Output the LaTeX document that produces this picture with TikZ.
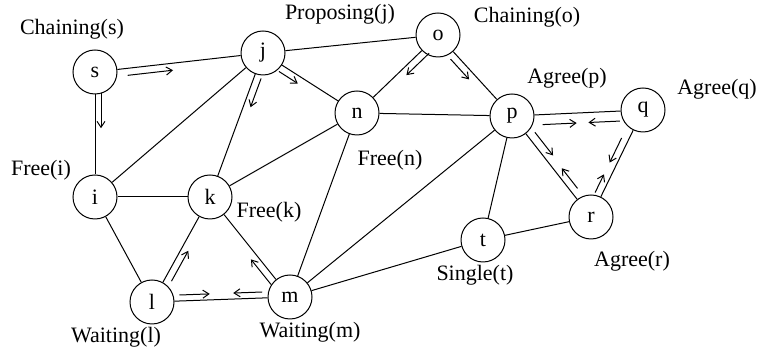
\documentclass[tikz,border=0pt]{standalone}
\usepackage{fontspec}
\setmainfont{Liberation Serif}
\usetikzlibrary{calc,arrows.meta}
\tikzset{
  vtx/.style={circle,draw,line width=0.5pt,minimum size=22pt,inner sep=0pt,font=\fontsize{11}{13}\selectfont},
  lbl/.style={inner sep=0pt,font=\fontsize{11}{13}\selectfont},
  edge/.style={line width=0.5pt},
  arr/.style={line width=0.5pt,-{Straight Barb[length=3pt,width=4pt]}}
}
\newcommand\parrow[6]{\draw[arr] ($(#1)!#3!(#2)!#6!#5:(#2)$) -- ($(#1)!#4!(#2)!#6!#5:(#2)$);}
\begin{document}
\begin{tikzpicture}[x=0.5pt,y=-0.5pt]
\useasboundingbox (0,0) rectangle (759,356);
% vertices
\node[vtx] (s) at (95,72) {s};
\node[vtx] (j) at (263,53) {j};
\node[vtx] (o) at (438,35) {o};
\node[vtx] (n) at (357,113) {n};
\node[vtx] (p) at (512,116) {p};
\node[vtx] (q) at (643,110) {q};
\node[vtx] (i) at (95,197) {i};
\node[vtx] (k) at (210,197) {k};
\node[vtx] (l) at (152,302) {l};
\node[vtx] (m) at (290,297) {m};
\node[vtx] (t) at (483,240) {t};
\node[vtx] (r) at (591,217) {r};
% labels
\node[lbl] (ls) at (72,29) {Chaining(s)};
\node[lbl] (lj) at (340,14) {Proposing(j)};
\node[lbl] (lo) at (527,17) {Chaining(o)};
\node[lbl] (lp) at (567,78) {Agree(p)};
\node[lbl] (lq) at (717,89) {Agree(q)};
\node[lbl] (li) at (41,170) {Free(i)};
\node[lbl] (ln) at (390,160) {Free(n)};
\node[lbl] (lk) at (269,212) {Free(k)};
\node[lbl] (ll) at (116,337) {Waiting(l)};
\node[lbl] (lm) at (310,332) {Waiting(m)};
\node[lbl] (lt) at (475,275) {Single(t)};
\node[lbl] (lr) at (632,261) {Agree(r)};
% edges
\foreach \a/\b in {s/j,s/i,j/i,j/k,j/n,j/o,o/n,o/p,n/p,n/k,n/m,p/q,p/t,p/r,p/m,q/r,r/t,t/m,i/k,i/l,k/l,k/m,l/m}
  \draw[edge] (\a) -- (\b);
% message arrows
\parrow{s}{j}{0.19}{0.46}{-90}{3.5pt}
\parrow{s}{i}{0.17}{0.45}{90}{3pt}
\parrow{j}{k}{0.16}{0.36}{90}{3.5pt}
\parrow{j}{n}{0.21}{0.41}{-90}{3.5pt}
\parrow{o}{n}{0.17}{0.45}{90}{3.5pt}
\parrow{o}{p}{0.24}{0.49}{-90}{3.5pt}
\parrow{p}{q}{0.23}{0.49}{-90}{5pt}
\parrow{q}{p}{0.18}{0.42}{90}{5pt}
\parrow{p}{r}{0.21}{0.44}{90}{4pt}
\parrow{r}{p}{0.24}{0.44}{-90}{3.5pt}
\parrow{q}{r}{0.29}{0.52}{-90}{3.5pt}
\parrow{r}{q}{0.20}{0.37}{90}{3.5pt}
\parrow{l}{k}{0.23}{0.52}{-90}{3.5pt}
\parrow{l}{m}{0.20}{0.42}{90}{3pt}
\parrow{m}{l}{0.20}{0.41}{-90}{3pt}
\parrow{m}{k}{0.17}{0.42}{90}{3.5pt}
\end{tikzpicture}
\end{document}
